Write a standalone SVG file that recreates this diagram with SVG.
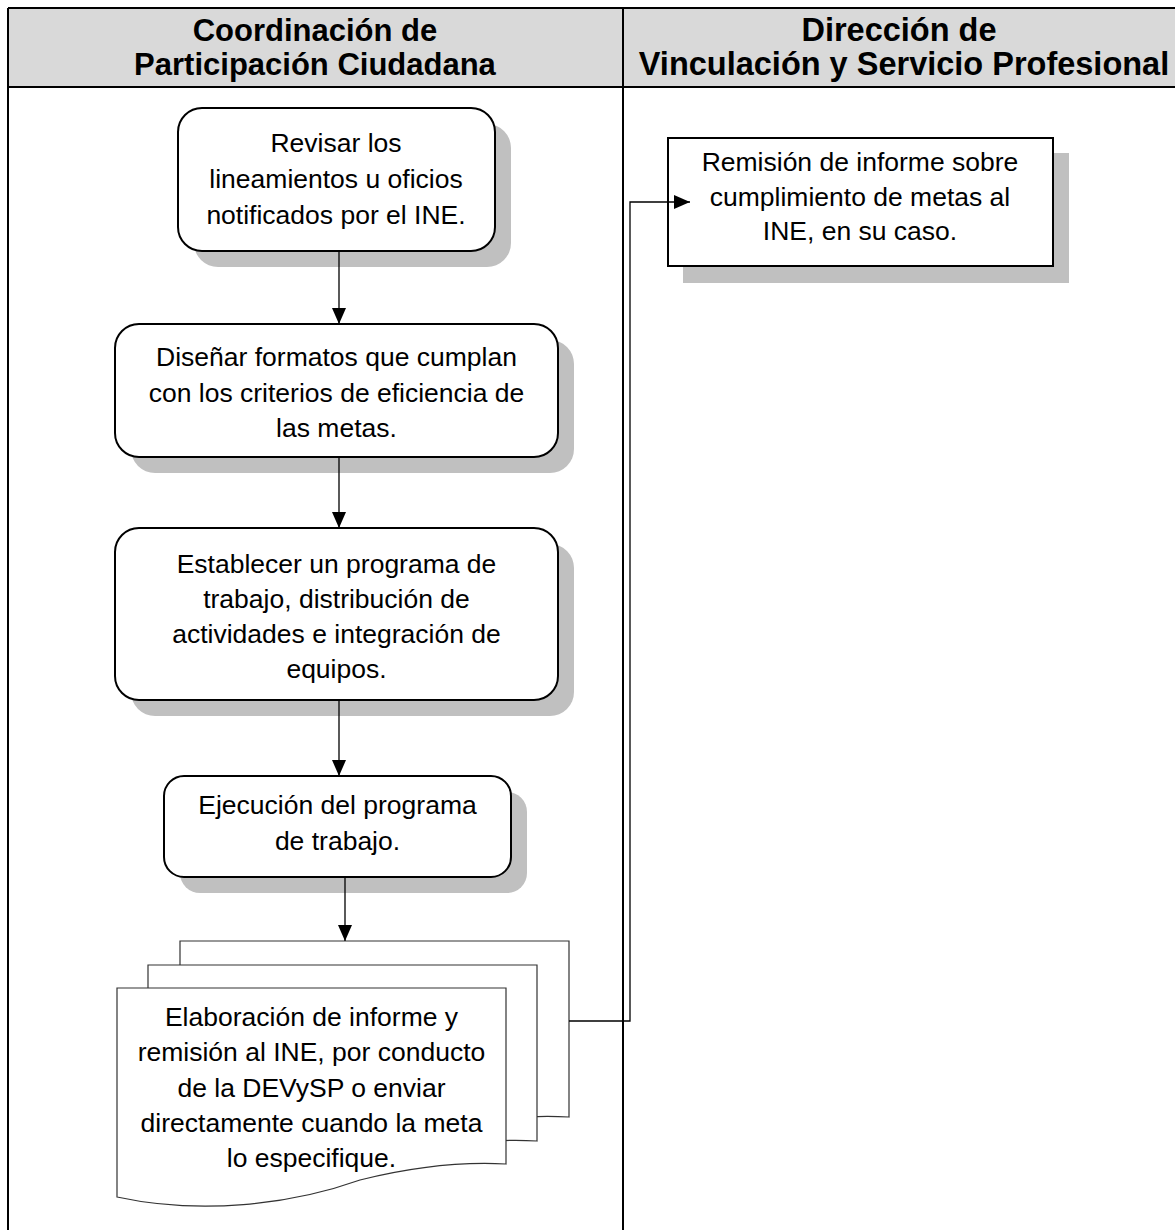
<svg xmlns="http://www.w3.org/2000/svg" width="1175" height="1230" viewBox="0 0 1175 1230">
<style>
.hdr{font-family:"Liberation Sans",Arial,sans-serif;font-weight:bold;font-size:31px;text-anchor:middle;fill:#000}
.hdr2{font-size:32.5px}
.t{font-family:"Liberation Sans",Arial,sans-serif;font-size:26.5px;text-anchor:middle;fill:#000}
.box{fill:#fff;stroke:#000;stroke-width:2}
.sh{fill:#c0c0c0;stroke:none}
.doc{fill:#fff;stroke:#333;stroke-width:1.2}
.conn{fill:none;stroke:#000;stroke-width:1.3}
.lane{fill:none;stroke:#000;stroke-width:2}
</style>
<defs>
<marker id="arr" markerUnits="userSpaceOnUse" markerWidth="16" markerHeight="16" viewBox="0 0 16 14" refX="16" refY="7" orient="auto">
<path d="M0,0 L16,7 L0,14 Z" fill="#000"/>
</marker>
<path id="docshape" d="M117,988 H506 V1164 C470,1162 420,1165 360,1180 C290,1205 200,1215 117,1197 Z"/>
</defs>
<rect width="1175" height="1230" fill="#fff"/>
<g id="lanes">
<rect x="8" y="8" width="1175" height="79" fill="#d9d9d9"/>
<line x1="8" y1="8" x2="1175" y2="8" class="lane"/>
<line x1="8" y1="87" x2="1175" y2="87" class="lane"/>
<line x1="8" y1="8" x2="8" y2="1230" class="lane"/>
<line x1="623" y1="8" x2="623" y2="1230" class="lane"/>
<text class="hdr" x="315" y="41">Coordinación de</text>
<text class="hdr" x="315" y="75">Participación Ciudadana</text>
<text class="hdr hdr2" x="899" y="41">Dirección de</text>
<text class="hdr hdr2" x="904" y="75">Vinculación y Servicio Profesional</text>
</g>
<g id="n1">
<rect class="sh" x="194" y="124" width="317" height="143" rx="24"/>
<rect class="box" x="178" y="108" width="317" height="143" rx="24"/>
<text class="t" x="336" y="152">Revisar los</text>
<text class="t" x="336" y="188">lineamientos u oficios</text>
<text class="t" x="336" y="224">notificados por el INE.</text>
</g>
<g id="n2">
<rect class="sh" x="131" y="340" width="443" height="133" rx="24"/>
<rect class="box" x="115" y="324" width="443" height="133" rx="24"/>
<text class="t" x="336.5" y="366">Diseñar formatos que cumplan</text>
<text class="t" x="336.5" y="402">con los criterios de eficiencia de</text>
<text class="t" x="336.5" y="437">las metas.</text>
</g>
<g id="n3">
<rect class="sh" x="131" y="544" width="443" height="172" rx="24"/>
<rect class="box" x="115" y="528" width="443" height="172" rx="24"/>
<text class="t" x="336.5" y="573">Establecer un programa de</text>
<text class="t" x="336.5" y="608">trabajo, distribución de</text>
<text class="t" x="336.5" y="643">actividades e integración de</text>
<text class="t" x="336.5" y="678">equipos.</text>
</g>
<g id="n4">
<rect class="sh" x="180" y="792" width="347" height="101" rx="20"/>
<rect class="box" x="164" y="776" width="347" height="101" rx="20"/>
<text class="t" x="337.5" y="814">Ejecución del programa</text>
<text class="t" x="337.5" y="850">de trabajo.</text>
</g>
<g id="n5">
<use href="#docshape" class="doc" transform="translate(63,-47)"/>
<use href="#docshape" class="doc" transform="translate(31,-23)"/>
<use href="#docshape" class="doc"/>
<text class="t" x="311.5" y="1026">Elaboración de informe y</text>
<text class="t" x="311.5" y="1061">remisión al INE, por conducto</text>
<text class="t" x="311.5" y="1097">de la DEVySP o enviar</text>
<text class="t" x="311.5" y="1132">directamente cuando la meta</text>
<text class="t" x="311.5" y="1167">lo especifique.</text>
</g>
<g id="n6">
<rect class="sh" x="683" y="153" width="386" height="130"/>
<rect class="box" x="668" y="138" width="385" height="128"/>
<text class="t" x="860" y="171">Remisión de informe sobre</text>
<text class="t" x="860" y="206">cumplimiento de metas al</text>
<text class="t" x="860" y="240">INE, en su caso.</text>
</g>
<g id="connectors">
<line class="conn" x1="339" y1="251" x2="339" y2="324" marker-end="url(#arr)"/>
<line class="conn" x1="339" y1="457" x2="339" y2="528" marker-end="url(#arr)"/>
<line class="conn" x1="339" y1="700" x2="339" y2="776" marker-end="url(#arr)"/>
<line class="conn" x1="345" y1="877" x2="345" y2="941" marker-end="url(#arr)"/>
<path class="conn" d="M569,1021 H630 V202 H690" marker-end="url(#arr)"/>
</g>
</svg>
